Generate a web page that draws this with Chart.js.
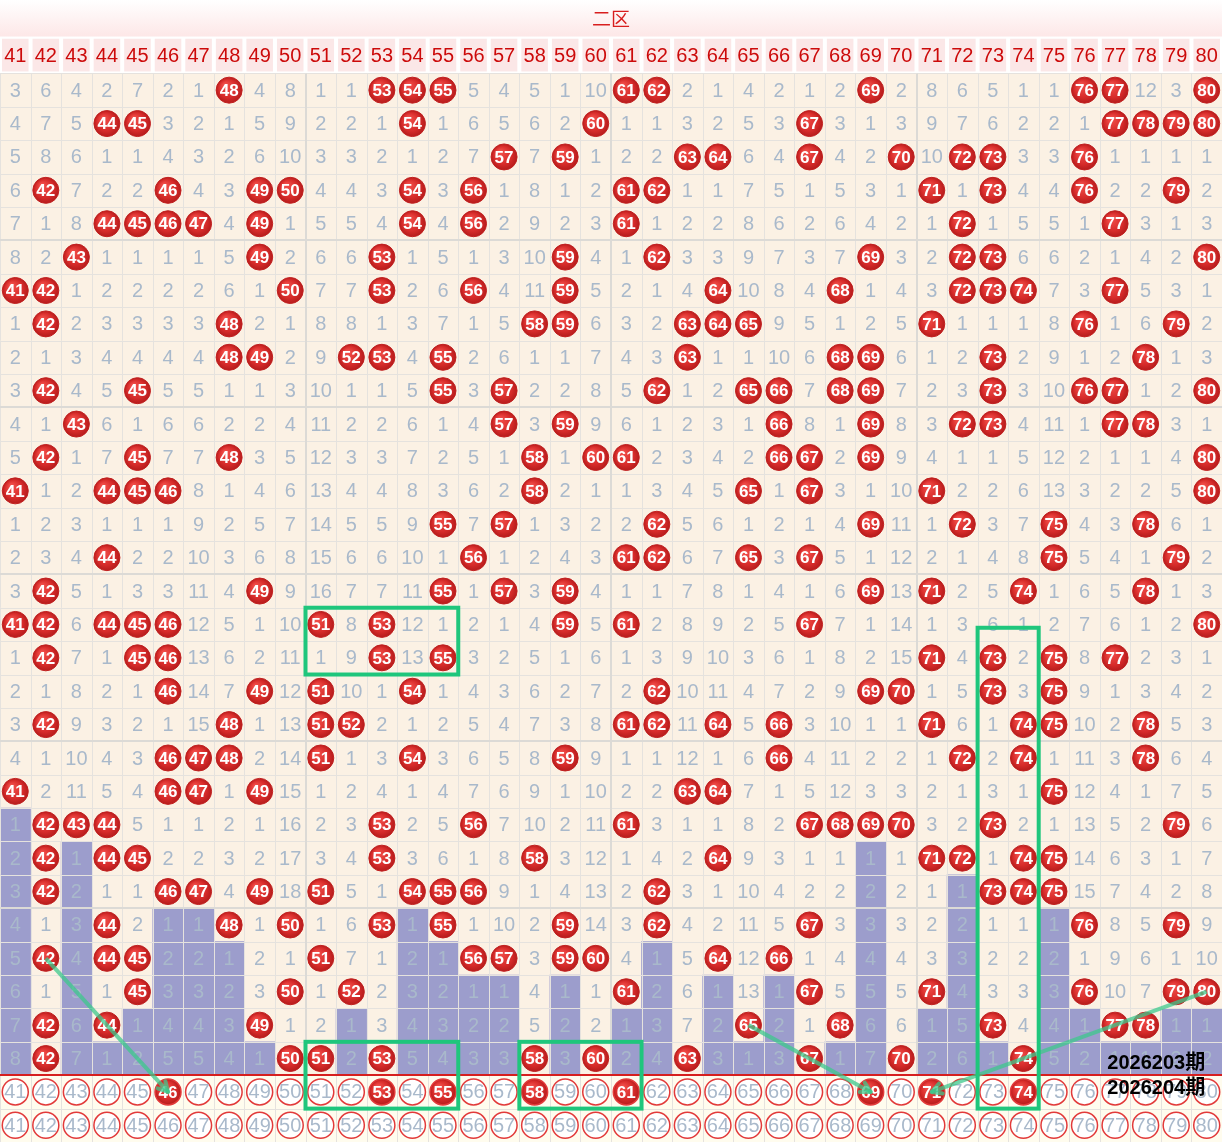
<!DOCTYPE html>
<html>
<head>
<meta charset="utf-8">
<script src="https://cdn.jsdelivr.net/npm/chart.js@4.4.1/dist/chart.umd.min.js"></script>
<style>
  body { margin: 0; background: #fff; }
  #wrap { width: 1222px; height: 1142px; }
</style>
</head>
<body>
<div id="wrap"><canvas id="trend" width="1222" height="1142"></canvas></div>
<script>
// 二区 number columns
const numbers = [41,42,43,44,45,46,47,48,49,50,51,52,53,54,55,56,57,58,59,60,
                 61,62,63,64,65,66,67,68,69,70,71,72,73,74,75,76,77,78,79,80];

// omission values per draw, 0 = number drawn (red ball)
const omission = [
  [3,6,4,2,7,2,1,0,4,8, 1,1,0,0,0,5,4,5,1,10, 0,0,2,1,4,2,1,2,0,2, 8,6,5,1,1,0,0,12,3,0],
  [4,7,5,0,0,3,2,1,5,9, 2,2,1,0,1,6,5,6,2,0, 1,1,3,2,5,3,0,3,1,3, 9,7,6,2,2,1,0,0,0,0],
  [5,8,6,1,1,4,3,2,6,10, 3,3,2,1,2,7,0,7,0,1, 2,2,0,0,6,4,0,4,2,0, 10,0,0,3,3,0,1,1,1,1],
  [6,0,7,2,2,0,4,3,0,0, 4,4,3,0,3,0,1,8,1,2, 0,0,1,1,7,5,1,5,3,1, 0,1,0,4,4,0,2,2,0,2],
  [7,1,8,0,0,0,0,4,0,1, 5,5,4,0,4,0,2,9,2,3, 0,1,2,2,8,6,2,6,4,2, 1,0,1,5,5,1,0,3,1,3],
  [8,2,0,1,1,1,1,5,0,2, 6,6,0,1,5,1,3,10,0,4, 1,0,3,3,9,7,3,7,0,3, 2,0,0,6,6,2,1,4,2,0],
  [0,0,1,2,2,2,2,6,1,0, 7,7,0,2,6,0,4,11,0,5, 2,1,4,0,10,8,4,0,1,4, 3,0,0,0,7,3,0,5,3,1],
  [1,0,2,3,3,3,3,0,2,1, 8,8,1,3,7,1,5,0,0,6, 3,2,0,0,0,9,5,1,2,5, 0,1,1,1,8,0,1,6,0,2],
  [2,1,3,4,4,4,4,0,0,2, 9,0,0,4,0,2,6,1,1,7, 4,3,0,1,1,10,6,0,0,6, 1,2,0,2,9,1,2,0,1,3],
  [3,0,4,5,0,5,5,1,1,3, 10,1,1,5,0,3,0,2,2,8, 5,0,1,2,0,0,7,0,0,7, 2,3,0,3,10,0,0,1,2,0],
  [4,1,0,6,1,6,6,2,2,4, 11,2,2,6,1,4,0,3,0,9, 6,1,2,3,1,0,8,1,0,8, 3,0,0,4,11,1,0,0,3,1],
  [5,0,1,7,0,7,7,0,3,5, 12,3,3,7,2,5,1,0,1,0, 0,2,3,4,2,0,0,2,0,9, 4,1,1,5,12,2,1,1,4,0],
  [0,1,2,0,0,0,8,1,4,6, 13,4,4,8,3,6,2,0,2,1, 1,3,4,5,0,1,0,3,1,10, 0,2,2,6,13,3,2,2,5,0],
  [1,2,3,1,1,1,9,2,5,7, 14,5,5,9,0,7,0,1,3,2, 2,0,5,6,1,2,1,4,0,11, 1,0,3,7,0,4,3,0,6,1],
  [2,3,4,0,2,2,10,3,6,8, 15,6,6,10,1,0,1,2,4,3, 0,0,6,7,0,3,0,5,1,12, 2,1,4,8,0,5,4,1,0,2],
  [3,0,5,1,3,3,11,4,0,9, 16,7,7,11,0,1,0,3,0,4, 1,1,7,8,1,4,1,6,0,13, 0,2,5,0,1,6,5,0,1,3],
  [0,0,6,0,0,0,12,5,1,10, 0,8,0,12,1,2,1,4,0,5, 0,2,8,9,2,5,0,7,1,14, 1,3,6,1,2,7,6,1,2,0],
  [1,0,7,1,0,0,13,6,2,11, 1,9,0,13,0,3,2,5,1,6, 1,3,9,10,3,6,1,8,2,15, 0,4,0,2,0,8,0,2,3,1],
  [2,1,8,2,1,0,14,7,0,12, 0,10,1,0,1,4,3,6,2,7, 2,0,10,11,4,7,2,9,0,0, 1,5,0,3,0,9,1,3,4,2],
  [3,0,9,3,2,1,15,0,1,13, 0,0,2,1,2,5,4,7,3,8, 0,0,11,0,5,0,3,10,1,1, 0,6,1,0,0,10,2,0,5,3],
  [4,1,10,4,3,0,0,0,2,14, 0,1,3,0,3,6,5,8,0,9, 1,1,12,1,6,0,4,11,2,2, 1,0,2,0,1,11,3,0,6,4],
  [0,2,11,5,4,0,0,1,0,15, 1,2,4,1,4,7,6,9,1,10, 2,2,0,0,7,1,5,12,3,3, 2,1,3,1,0,12,4,1,7,5],
  [1,0,0,0,5,1,1,2,1,16, 2,3,0,2,5,0,7,10,2,11, 0,3,1,1,8,2,0,0,0,0, 3,2,0,2,1,13,5,2,0,6],
  [2,0,1,0,0,2,2,3,2,17, 3,4,0,3,6,1,8,0,3,12, 1,4,2,0,9,3,1,1,1,1, 0,0,1,0,0,14,6,3,1,7],
  [3,0,2,1,1,0,0,4,0,18, 0,5,1,0,0,0,9,1,4,13, 2,0,3,1,10,4,2,2,2,2, 1,1,0,0,0,15,7,4,2,8],
  [4,1,3,0,2,1,1,0,1,0, 1,6,0,1,0,1,10,2,0,14, 3,0,4,2,11,5,0,3,3,3, 2,2,1,1,1,0,8,5,0,9],
  [5,0,4,0,0,2,2,1,2,1, 0,7,1,2,1,0,0,3,0,0, 4,1,5,0,12,0,1,4,4,4, 3,3,2,2,2,1,9,6,1,10],
  [6,1,5,1,0,3,3,2,3,0, 1,0,2,3,2,1,1,4,1,1, 0,2,6,1,13,1,0,5,5,5, 0,4,3,3,3,0,10,7,0,0],
  [7,0,6,0,1,4,4,3,0,1, 2,1,3,4,3,2,2,5,2,2, 1,3,7,2,0,2,1,0,6,6, 1,5,0,4,4,1,0,0,1,1],
  [8,0,7,1,2,5,5,4,1,0, 0,2,0,5,4,3,3,0,3,0, 2,4,0,3,1,3,0,1,7,0, 2,6,1,0,5,2,1,1,2,2]
];

// purple bars: current omission (capped at 8)
const barHeights = [8,0,7,1,2,5,5,4,1,0, 0,2,0,5,4,3,3,0,3,0,
                    2,4,0,3,1,3,0,1,7,0, 2,6,1,0,5,2,1,1,2,2];

// picks marked in the first footer row
const nextHits = [46,53,55,58,61,69,71,74];
const periodLabels = ['2026203期', '2026204期'];

// trend lines: [number, row] -> [number, row]; rows 1..30 data, 31/32 footer rows
const trendLines = [
  [[42, 27], [46, 31]],
  [[65, 29], [69, 31]],
  [[80, 28], [71, 31]]
];
// highlight boxes: first/last number, first/last row
const boxes = [
  { cols: [51, 55], rows: [17, 18] },
  { cols: [73, 74], rows: [17.6, 31] },
  { cols: [51, 55], rows: [30, 31] },
  { cols: [58, 61], rows: [30, 31] }
];

const rowY = r => 30.5 - r;

const hitPoints = [];
omission.forEach((row, r) => row.forEach((v, i) => {
  if (v === 0) hitPoints.push({ x: numbers[i], y: rowY(r + 1) });
}));

const FONT = '"Liberation Sans", Arial, sans-serif';
const GREY = '#a9b9cb';
const RED = '#d42a2a';

function ballFill(c) {
  if (!c.raw || !c.chart.scales.x) return RED;
  const X = c.chart.scales.x.getPixelForValue(c.raw.x);
  const Y = c.chart.scales.y.getPixelForValue(c.raw.y);
  if (!isFinite(X) || !isFinite(Y)) return RED;
  const g = c.chart.ctx.createRadialGradient(X - 4, Y - 5, 2, X, Y, 13);
  g.addColorStop(0, '#ef4b47');
  g.addColorStop(0.65, '#d62b2a');
  g.addColorStop(1, '#b51c1c');
  return g;
}

const sheet = {
  id: 'sheet',
  beforeDatasetsDraw(chart) {
    const { ctx } = chart;
    const px = v => chart.scales.x.getPixelForValue(v);
    const py = v => chart.scales.y.getPixelForValue(v);
    const L = px(40.5), R = px(80.5);
    ctx.save();
    // title band
    const tTop = py(32.2), tBot = py(31.1);
    const g = ctx.createLinearGradient(0, tTop, 0, tBot);
    g.addColorStop(0, '#ffffff');
    g.addColorStop(1, '#fde7e7');
    ctx.fillStyle = g;
    ctx.fillRect(L, tTop, R - L, tBot - tTop);
    ctx.fillStyle = '#d81e1e';
    ctx.font = '19px "Noto Sans CJK SC", sans-serif';
    ctx.textAlign = 'center';
    ctx.textBaseline = 'middle';
    ctx.fillText('二区', px(60.5), py(31.65));
    // number labels row
    ctx.fillStyle = '#ffffff';
    ctx.fillRect(L, tBot, R - L, py(30) - tBot);
    ctx.font = '20px ' + FONT;
    numbers.forEach(n => {
      ctx.fillStyle = '#fbe7e7';
      ctx.fillRect(px(n - 0.5) + 2, tBot + 2, px(n + 0.5) - px(n - 0.5) - 4, py(30) - tBot - 4);
      ctx.fillStyle = '#cc0a0a';
      ctx.fillText(String(n), px(n), py(30.55) + 1);
    });
    // data area and footer
    ctx.fillStyle = '#fbf1e4';
    ctx.fillRect(L, py(30), R - L, py(0) - py(30));
    ctx.fillStyle = '#fffcee';
    ctx.fillRect(L, py(0), R - L, py(-2) - py(0));
    ctx.restore();
  },
  afterDatasetDraw(chart, args) {
    const { ctx } = chart;
    const px = v => chart.scales.x.getPixelForValue(v);
    const py = v => chart.scales.y.getPixelForValue(v);
    ctx.save();
    ctx.textAlign = 'center';
    ctx.textBaseline = 'middle';
    if (args.index === 0) {
      // cell grid
      const L = px(40.5), R = px(80.5);
      ctx.strokeStyle = '#e5e2de';
      ctx.lineWidth = 1;
      for (let n = 40.5; n <= 80.5; n++) {
        ctx.beginPath();
        ctx.moveTo(Math.round(px(n)) + 0.5, py(30));
        ctx.lineTo(Math.round(px(n)) + 0.5, py(-2));
        ctx.stroke();
      }
      for (let v = -2; v <= 30; v++) {
        ctx.beginPath();
        ctx.moveTo(L, Math.round(py(v)) + 0.5);
        ctx.lineTo(R, Math.round(py(v)) + 0.5);
        ctx.stroke();
      }
      ctx.strokeStyle = '#dcdad6';
      ctx.lineWidth = 2;
      [50.5, 60.5, 70.5].forEach(n => {
        ctx.beginPath();
        ctx.moveTo(Math.round(px(n)), py(30));
        ctx.lineTo(Math.round(px(n)), py(0));
        ctx.stroke();
      });
      [5, 10, 15, 20, 25].forEach(v => {
        ctx.beginPath();
        ctx.moveTo(L, Math.round(py(v)));
        ctx.lineTo(R, Math.round(py(v)));
        ctx.stroke();
      });
      ctx.strokeStyle = '#d61f1f';
      ctx.lineWidth = 2;
      ctx.beginPath();
      ctx.moveTo(L, Math.round(py(0)));
      ctx.lineTo(R, Math.round(py(0)));
      ctx.stroke();
      // omission numbers
      ctx.fillStyle = GREY;
      ctx.font = '20px ' + FONT;
      omission.forEach((row, r) => row.forEach((v, i) => {
        if (v > 0) ctx.fillText(String(v), px(numbers[i]), py(rowY(r + 1)) + 1);
      }));
    } else if (args.index === 1) {
      ctx.fillStyle = '#ffffff';
      ctx.font = 'bold 17px ' + FONT;
      hitPoints.forEach(p => ctx.fillText(String(p.x), px(p.x), py(p.y) + 1));
    } else if (args.index === 2 || args.index === 3) {
      const yv = args.index === 2 ? rowY(31) : rowY(32);
      numbers.forEach(n => {
        const hit = args.index === 2 && nextHits.includes(n);
        ctx.fillStyle = hit ? '#ffffff' : GREY;
        ctx.font = (hit ? 'bold 17px ' : '20px ') + FONT;
        ctx.fillText(String(n), px(n), py(yv) + 1);
      });
    }
    ctx.restore();
  },
  afterDatasetsDraw(chart) {
    const { ctx } = chart;
    const px = v => chart.scales.x.getPixelForValue(v);
    const py = v => chart.scales.y.getPixelForValue(v);
    ctx.save();
    // arrow heads
    ctx.strokeStyle = 'rgba(62, 200, 140, 0.75)';
    ctx.lineWidth = 4;
    ctx.lineCap = 'round';
    trendLines.forEach(([a, b]) => {
      const x0 = px(a[0]), y0 = py(rowY(a[1])), x1 = px(b[0]), y1 = py(rowY(b[1]));
      const ang = Math.atan2(y1 - y0, x1 - x0);
      [-0.5, 0.5].forEach(d => {
        ctx.beginPath();
        ctx.moveTo(x1, y1);
        ctx.lineTo(x1 - 11 * Math.cos(ang + d), y1 - 11 * Math.sin(ang + d));
        ctx.stroke();
      });
    });
    // boxes
    ctx.strokeStyle = '#1fc67c';
    ctx.lineWidth = 4;
    boxes.forEach(b => {
      const x0 = px(b.cols[0] - 0.5), x1 = px(b.cols[1] + 0.5);
      const y0 = py(31 - b.rows[0]), y1 = py(30 - b.rows[1]);
      ctx.strokeRect(x0, y0, x1 - x0, y1 - y0);
    });
    // period labels
    ctx.fillStyle = '#000000';
    ctx.font = 'bold 20px ' + FONT + ', "Noto Sans CJK SC"';
    ctx.textAlign = 'right';
    ctx.textBaseline = 'middle';
    ctx.fillText(periodLabels[0], px(79.95), py(0.36));
    ctx.fillText(periodLabels[1], px(79.95), py(-0.39));
    ctx.restore();
  }
};

new Chart(document.getElementById('trend'), {
  type: 'scatter',
  data: {
    datasets: [
      {
        type: 'bar',
        data: numbers.map((n, i) => ({ x: n, y: [0, barHeights[i]] })),
        backgroundColor: '#9c9dcc',
        borderWidth: 0,
        barPercentage: 1,
        categoryPercentage: 1,
        grouped: false,
        order: 4
      },
      {
        data: hitPoints,
        pointStyle: 'circle',
        pointRadius: 13,
        backgroundColor: ballFill,
        borderColor: '#c22020',
        borderWidth: 1,
        order: 3
      },
      {
        data: numbers.map(n => ({ x: n, y: rowY(31) })),
        pointStyle: 'circle',
        pointRadius: 13,
        backgroundColor: c => (c.raw && nextHits.includes(c.raw.x)) ? ballFill(c) : '#ffffff',
        borderColor: '#e23a3a',
        borderWidth: 1.5,
        order: 3
      },
      {
        data: numbers.map(n => ({ x: n, y: rowY(32) })),
        pointStyle: 'circle',
        pointRadius: 13,
        backgroundColor: '#ffffff',
        borderColor: '#e23a3a',
        borderWidth: 1.5,
        order: 3
      },
      ...trendLines.map(([a, b]) => ({
        type: 'line',
        data: [{ x: a[0], y: rowY(a[1]) }, { x: b[0], y: rowY(b[1]) }],
        borderColor: 'rgba(62, 200, 140, 0.75)',
        borderWidth: 4,
        pointRadius: 0,
        showLine: true,
        order: 1
      }))
    ]
  },
  options: {
    responsive: false,
    animation: false,
    devicePixelRatio: 1,
    layout: { padding: 0, autoPadding: false },
    events: [],
    scales: {
      x: { type: 'linear', min: 40.5, max: 80.5, offset: false, display: false },
      y: { type: 'linear', min: -2, max: 32.2, display: false }
    },
    plugins: {
      legend: { display: false },
      tooltip: { enabled: false }
    }
  },
  plugins: [sheet]
});
</script>
</body>
</html>
